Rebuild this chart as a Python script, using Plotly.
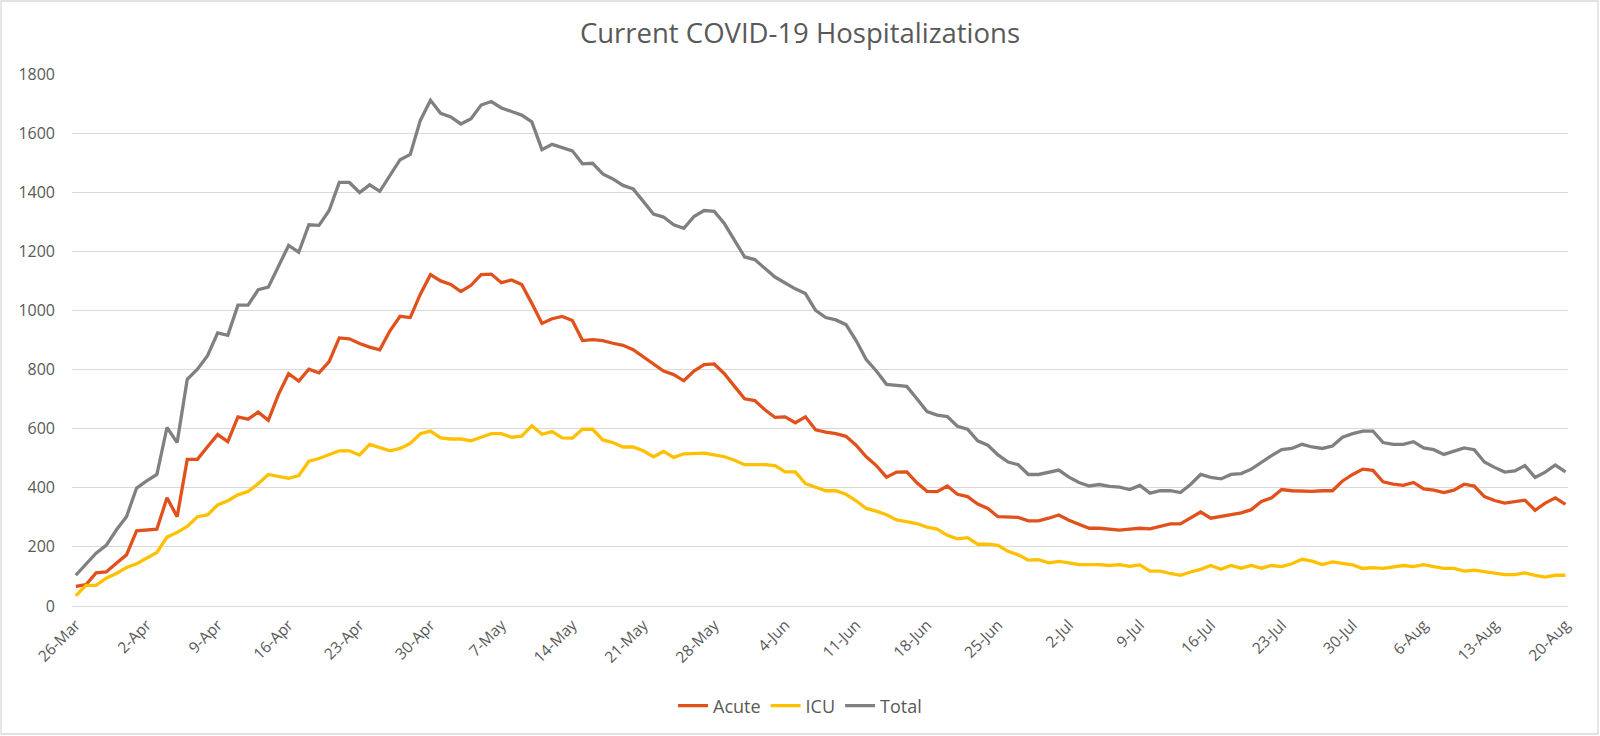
import pandas as pd
import plotly.graph_objects as go

start_date = "2020-03-26"
n_days = 148

acute = [66, 72, 112, 115, 145, 173, 254, 257, 260, 366, 302, 496, 496, 539, 580, 556, 640, 632, 656, 628, 716, 786, 761, 801,
         789, 827, 907, 904, 888, 876, 867, 931, 980, 976, 1055, 1121, 1100, 1088, 1064, 1085, 1121, 1123, 1094, 1103, 1088, 1024, 956, 972, 980,
         966, 898, 901, 898, 889, 882, 867, 843, 819, 795, 783, 762, 795, 817, 819, 786, 743, 701, 695, 664, 638, 640, 620, 640, 596, 588,
         583, 574, 544, 505, 475, 436, 453, 454, 417, 388, 387, 406, 378, 370, 345, 330, 302, 300, 300, 288, 288, 297, 308, 290, 275, 263,
         263, 261, 257, 260, 263, 261, 269, 278, 278, 297, 318, 297, 303, 309, 315, 326, 354, 366, 394, 390, 388, 388, 390,
         390, 423, 445, 463, 459, 420, 412, 408, 418, 396, 392, 384, 392, 412, 406, 370, 357, 348, 352, 358, 324, 348, 366, 344]

icu = [34, 70, 70, 94, 110, 130, 143, 161, 181, 233, 249, 269, 302, 308, 342, 356, 376, 387, 414, 445, 438, 432, 441, 490,
       499, 513, 525, 525, 511, 547, 535, 525, 533, 550, 583, 592, 569, 565, 565, 559, 571, 583, 583, 571, 575, 610, 581, 590, 569,
       568, 598, 598, 562, 553, 538, 538, 525, 505, 523, 503, 515, 517, 517, 511, 505, 493, 478, 478, 478, 475, 454, 454, 414, 402, 390,
       390, 378, 356, 330, 321, 309, 291, 285, 279, 267, 260, 239, 227, 231, 209, 209, 205, 185, 173, 155, 157, 146, 151, 146, 140, 140,
       140, 137, 140, 134, 139, 118, 118, 110, 104, 115, 124, 137, 124, 137, 128, 137, 128, 137, 133, 143, 158, 152, 140,
       149, 143, 139, 127, 130, 127, 133, 137, 133, 140, 133, 127, 127, 118, 121, 116, 110, 106, 106, 112, 104, 98, 104, 104]

total = [104, 140, 179, 205, 257, 302, 399, 423, 445, 604, 553, 767, 801, 847, 924, 916, 1018, 1018, 1070, 1079, 1151, 1220, 1197, 1290,
         1288, 1338, 1433, 1433, 1399, 1425, 1403, 1459, 1510, 1528, 1643, 1711, 1667, 1655, 1631, 1649, 1695, 1707, 1685, 1673, 1661, 1638, 1544, 1562, 1550,
         1540, 1496, 1498, 1462, 1445, 1423, 1411, 1369, 1326, 1316, 1290, 1278, 1318, 1338, 1335, 1294, 1236, 1181, 1172, 1143, 1113, 1093, 1073, 1057, 1000, 976,
         968, 952, 898, 834, 795, 750, 747, 743, 701, 658, 646, 641, 608, 598, 559, 544, 511, 487, 478, 445, 445, 453, 460, 436, 418, 406,
         411, 405, 402, 394, 408, 382, 390, 390, 384, 411, 445, 435, 430, 445, 448, 463, 487, 509, 529, 533, 547, 538, 533,
         541, 571, 583, 592, 592, 553, 547, 547, 556, 535, 529, 513, 525, 535, 529, 487, 469, 453, 457, 475, 435, 453, 477, 454]

tick_labels = ["26-Mar", "2-Apr", "9-Apr", "16-Apr", "23-Apr", "30-Apr", "7-May", "14-May", "21-May", "28-May", "4-Jun",
               "11-Jun", "18-Jun", "25-Jun", "2-Jul", "9-Jul", "16-Jul", "23-Jul", "30-Jul", "6-Aug", "13-Aug", "20-Aug"]

dates = pd.date_range(start_date, periods=n_days, freq="D")
tick_vals = list(dates[::7])

series = [("Acute", acute, "#E0511C"), ("ICU", icu, "#FFC000"), ("Total", total, "#808080")]

fig = go.Figure()
for name, vals, color in series:
    fig.add_trace(go.Scatter(x=dates, y=vals, name=name, mode="lines",
                             line=dict(color=color, width=3.3)))

FONT = "Open Sans"
TXT = "#595959"

# plot area in pixels: left 72, right 1568, top 74, bottom 606
L, R, T, B = 72, 1568, 74, 606
pw = R - L
ph = B - T

fig.update_layout(
    width=1600, height=736,
    margin=dict(l=L, r=1600 - R, t=T, b=736 - B),
    paper_bgcolor="white", plot_bgcolor="white",
    font=dict(family=FONT, color=TXT, size=15),
    title=dict(text="Current COVID-19 Hospitalizations", x=0.5, xanchor="center",
               y=1 - 33 / 736, yanchor="middle",
               font=dict(family=FONT, size=27.5, color=TXT)),
    xaxis=dict(type="date",
               range=[dates[0] - pd.Timedelta(hours=9), dates[-1] + pd.Timedelta(hours=6)],
               tickvals=tick_vals, ticktext=tick_labels, tickangle=-45,
               showgrid=False, zeroline=False, showline=False, ticks="",
               ticklabelstandoff=6,
               tickfont=dict(family=FONT, size=15.5, color=TXT)),
    yaxis=dict(range=[0, 1800], dtick=200, tick0=0, showgrid=True, gridcolor="#D9D9D9",
               gridwidth=1.3, zeroline=True, zerolinecolor="#D9D9D9", zerolinewidth=1.3,
               showline=False, ticks="", ticklabelstandoff=16,
               tickfont=dict(family=FONT, size=16, color=TXT)),
    legend=dict(orientation="h", x=(800 - L) / pw, xanchor="center", y=(B - 706) / ph, yanchor="middle",
                font=dict(family=FONT, size=18, color=TXT), itemwidth=30, tracegroupgap=0),
    showlegend=True,
    shapes=[dict(type="rect", xref="paper", yref="paper",
                 x0=(1 - L) / pw, x1=(1598 - L) / pw,
                 y0=(B - 734) / ph, y1=(B - 1) / ph,
                 line=dict(color="#D9D9D9", width=1.3), fillcolor="rgba(0,0,0,0)", layer="below")],
)

fig.write_html("out.html", config={"displayModeBar": False},
               post_script="document.body.style.margin='0px';document.body.style.overflow='hidden';")
